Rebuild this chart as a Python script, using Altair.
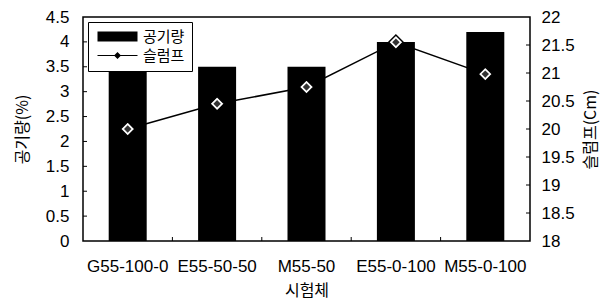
import altair as alt
import pandas as pd

categories = ["G55-100-0", "E55-50-50", "M55-50", "E55-0-100", "M55-0-100"]
air = [4.0, 3.5, 3.5, 4.0, 4.2]
slump = [20.0, 20.45, 20.75, 21.55, 20.98]
left_ticks = [0.5, 1, 1.5, 2, 2.5, 3, 3.5, 4]
right_ticks = [18.5, 19, 19.5, 20, 20.5, 21, 21.5]
left_values = [0, 0.5, 1, 1.5, 2, 2.5, 3, 3.5, 4, 4.5]
right_values = [18, 18.5, 19, 19.5, 20, 20.5, 21, 21.5, 22]
series = ["공기량", "슬럼프"]

W, H = 447, 224
NUM_FONT = "Liberation Sans"
CJK_FONT = "Noto Sans CJK KR"

df = pd.DataFrame({"cat": categories, "air": air, "slump": slump})
df_lt = pd.DataFrame({"air": left_ticks})
df_rt = pd.DataFrame({"slump": right_ticks})
df_bound = pd.DataFrame({"cat": categories[1:]})
df_leg = pd.DataFrame({"s": series})

xaxis = alt.Axis(title="시험체", ticks=False, domain=False, labelAngle=0,
                 labelFont=NUM_FONT, labelFontSize=17, labelColor="black",
                 labelPadding=17, titleFont=CJK_FONT, titleFontSize=16,
                 titleFontWeight="normal", titleColor="black",
                 titleX=W / 2, titleY=49, titleAlign="center", titleBaseline="middle")
xscale = alt.Scale(paddingInner=0, paddingOuter=0)

def X(**kw):
    return alt.X("cat:N", sort=categories, scale=xscale, axis=xaxis, **kw)

lscale = alt.Scale(domain=[0, 4.5], nice=False)
yleft_axis = alt.Axis(title="공기량(%)", values=left_values, labelExpr="'' + datum.value",
                      ticks=False, domain=False, grid=False, labelFont=NUM_FONT,
                      labelFontSize=17, labelColor="black", labelPadding=14,
                      titleFont=CJK_FONT, titleFontSize=16, titleFontWeight="normal",
                      titleColor="#000000", titleX=-61, titleY=H / 2, titleAngle=270,
                      titleAlign="center", titleBaseline="middle")

rscale = alt.Scale(domain=[18, 22], nice=False)
yright_axis = alt.Axis(title="슬럼프(Cm)", orient="right", values=right_values,
                       labelExpr="'' + datum.value", ticks=False, domain=False, grid=False,
                       labelFont=NUM_FONT, labelFontSize=17, labelColor="black", labelPadding=11,
                       titleFont=CJK_FONT, titleFontSize=16, titleFontWeight="normal",
                       titleColor="#000000", titleX=60, titleY=H / 2, titleAngle=270,
                       titleAlign="center", titleBaseline="middle")

def YL():
    return alt.Y("air:Q", scale=lscale, axis=yleft_axis)

def YR():
    return alt.Y("slump:Q", scale=rscale, axis=yright_axis)

bars = alt.Chart(df).mark_bar(color="black", size=38).encode(x=X(), y=YL())

lticks = alt.Chart(df_lt).mark_rule(color="black", strokeWidth=1).encode(
    y=YL(), x=alt.value(0), x2=alt.value(4))

bticks = alt.Chart(df_bound).mark_rule(color="black", strokeWidth=1).encode(
    x=X(bandPosition=0), y=alt.value(H - 4), y2=alt.value(H))

shape_paths = ["M-1,-1H7V1H-1Z",
               "M-1,-0.12H7V0.12H-1ZM2.3,0L3,-0.7L3.7,0L3,0.7Z"]
legend_layer = alt.Chart(df_leg).mark_point(filled=True, opacity=0, fill="black").encode(
    shape=alt.Shape("s:N", sort=series, scale=alt.Scale(domain=series, range=shape_paths),
                    legend=alt.Legend(title=None, orient="none", legendX=5, legendY=5,
                                      symbolSize=100, symbolOpacity=1, symbolFillColor="black",
                                      symbolStrokeColor="black", symbolStrokeWidth=0,
                                      labelFont=CJK_FONT, labelFontSize=15, labelColor="black",
                                      labelOffset=33, padding=7, rowPadding=3,
                                      strokeColor="black", fillColor="white")))

left_group = alt.layer(bars, lticks, bticks, legend_layer)

line = alt.Chart(df).mark_line(color="black", strokeWidth=1.5).encode(x=X(), y=YR())
pts = alt.Chart(df).mark_point(shape="diamond", filled=True, size=210, fill="white",
                               stroke="black", strokeWidth=1.5, opacity=1).encode(x=X(), y=YR())
pts_in = alt.Chart(df).mark_point(shape="diamond", filled=True, size=55, color="#333333",
                                  opacity=1).encode(x=X(), y=YR())
rticks = alt.Chart(df_rt).mark_rule(color="black", strokeWidth=1).encode(
    y=YR(), x=alt.value(W - 4), x2=alt.value(W))

right_group = alt.layer(line, pts, pts_in, rticks)

chart = alt.layer(left_group, right_group).resolve_scale(y="independent").properties(
    width=W, height=H,
    autosize=alt.AutoSizeParams(type="none"),
    padding={"left": 75, "top": 9, "right": 74, "bottom": 62},
    background="white",
).configure_view(stroke="black", strokeWidth=1.5)

chart.save("out.html", embed_options={"renderer": "svg", "actions": False})
